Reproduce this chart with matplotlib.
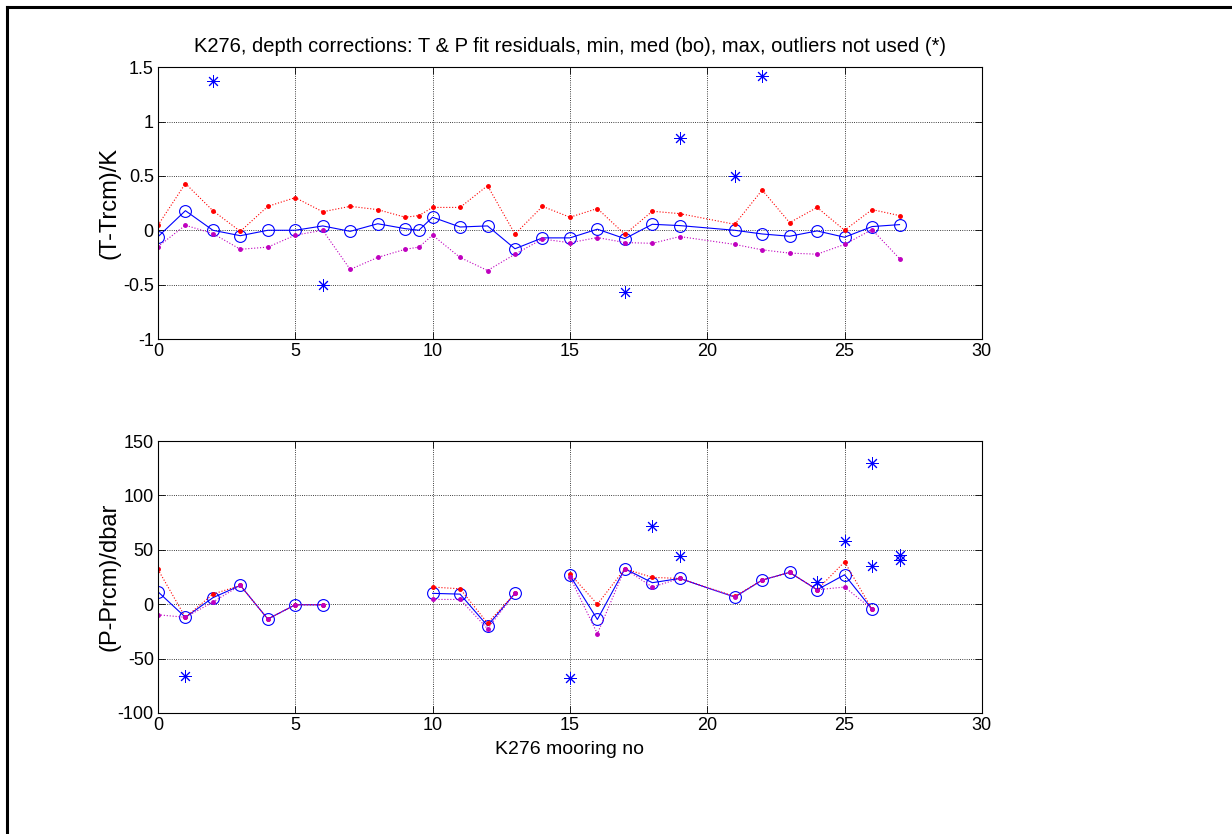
import numpy as np
import matplotlib
matplotlib.use("Agg")
import matplotlib.pyplot as plt
from matplotlib.lines import Line2D

plt.rcParams['font.family'] = ['Liberation Sans', 'DejaVu Sans']
plt.rcParams['font.size'] = 13

nan = np.nan

# mooring numbers (9.5 is the extra instrument, 20 is missing)
moor = [0, 1, 2, 3, 4, 5, 6, 7, 8, 9, 9.5, 10, 11, 12, 13, 14, 15, 16, 17, 18, 19,
        21, 22, 23, 24, 25, 26, 27]

# temperature residuals, K
t_med = [-0.06, 0.18, 0.0, -0.05, 0.0, 0.0, 0.04, -0.01, 0.06, 0.015, 0.0, 0.12, 0.03, 0.04,
         -0.17, -0.07, -0.07, 0.01, -0.077, 0.055, 0.043, 0.0, -0.034, -0.055, -0.006, -0.064,
         0.034, 0.052]
t_max = [0.046, 0.43, 0.18, -0.01, 0.22, 0.30, 0.17, 0.22, 0.19, 0.12, 0.135, 0.21, 0.21, 0.41,
         -0.035, 0.22, 0.12, 0.20, -0.037, 0.175, 0.153, 0.055, 0.37, 0.07, 0.21, 0.0,
         0.19, 0.135]
t_min = [-0.15, 0.046, -0.03, -0.175, -0.155, -0.045, 0.0, -0.36, -0.25, -0.175, -0.155, -0.045,
         -0.25, -0.37, -0.22, -0.08, -0.115, -0.067, -0.113, -0.12, -0.058, -0.13, -0.18,
         -0.21, -0.22, -0.13, 0.006, -0.26]
t_out_x = [2, 6, 17, 19, 21, 22]
t_out_y = [1.37, -0.5, -0.567, 0.845, 0.496, 1.415]

# pressure residuals, dbar
p_med = [11.5, -12, 6, 17.3, -13.6, -0.5, -0.5, nan, nan, nan, nan, 10, 9.3, -19.8, 10, nan,
         26.5, -14, 32.6, 19.8, 23.7, 6.6, 22.2, 29.3, 13.3, 27.1, -4.5, nan]
p_max = [32, -12, 9.3, 17.3, -13.6, -0.5, -0.5, nan, nan, nan, nan, 15.8, 14.2, -17.3, 10, nan,
         28, 0, 32.6, 24.7, 23.7, 7.2, 22.2, 29.3, 13.3, 39, -4.5, nan]
p_min = [-9.7, -12, 2, 17.3, -13.6, -0.5, -0.5, nan, nan, nan, nan, 4.4, 4.4, -22.5, 10, nan,
         25, -27.1, 32.6, 15.8, 23.7, 6.6, 22.2, 29.3, 13.3, 15.8, -4.5, nan]
p_out_x = [1, 15, 18, 19, 24, 25, 26, 26, 27, 27]
p_out_y = [-66.3, -67.9, 72.1, 44.6, 20.7, 57.8, 130, 35, 45.2, 40.3]

star = (8, 2, 0)


def panel(ax, med, mx, mn, ox, oy, yticks, ylab):
    ax.plot(moor, med, 'b-', marker='o', mfc='none', ms=8.5, lw=0.8, mew=0.8)
    ax.plot(moor, mx, 'r:', marker='.', ms=5, lw=0.8)
    ax.plot(moor, mn, 'm:', marker='.', ms=5, lw=0.8)
    ax.plot(ox, oy, 'b', ls='none', marker=star, ms=9, mew=0.7)
    ax.set_xlim(0, 30)
    ax.set_ylim(yticks[0], yticks[-1])
    ax.set_xticks(range(0, 31, 5))
    ax.set_yticks(yticks)
    ax.set_yticklabels([('%g' % v) for v in yticks])
    ax.grid(True, ls=':', color='k', lw=0.6)
    ax.tick_params(direction='in', top=True, right=True, length=5, width=0.6, pad=3,
                   labelsize=13)
    for s in ax.spines.values():
        s.set_linewidth(0.8)
    ax.set_ylabel(ylab, fontsize=17)
    ax.yaxis.set_label_coords(-0.045, 0.5)


fig = plt.figure(figsize=(12.32, 8.34), dpi=100)
ax1 = fig.add_axes([0.1282, 0.5935, 0.6688, 0.326])
ax2 = fig.add_axes([0.1282, 0.1451, 0.6688, 0.326])

panel(ax1, t_med, t_max, t_min, t_out_x, t_out_y, [-1, -0.5, 0, 0.5, 1, 1.5], '(T-Trcm)/K')
panel(ax2, p_med, p_max, p_min, p_out_x, p_out_y, [-100, -50, 0, 50, 100, 150], '(P-Prcm)/dbar')

ax1.set_title('K276, depth corrections: T & P fit residuals, min, med (bo), max, outliers not used (*)',
              fontsize=14.5, pad=11)
ax2.set_xlabel('K276 mooring no', fontsize=14, labelpad=5)

# frame lines along the top and left edge
fig.add_artist(Line2D([0.0057, 1.0], [0.9916, 0.9916], color='k', lw=2.2, transform=fig.transFigure))
fig.add_artist(Line2D([0.0057, 0.0057], [0.0, 0.9916], color='k', lw=2.2, transform=fig.transFigure))

fig.savefig('out.png', dpi=100)
